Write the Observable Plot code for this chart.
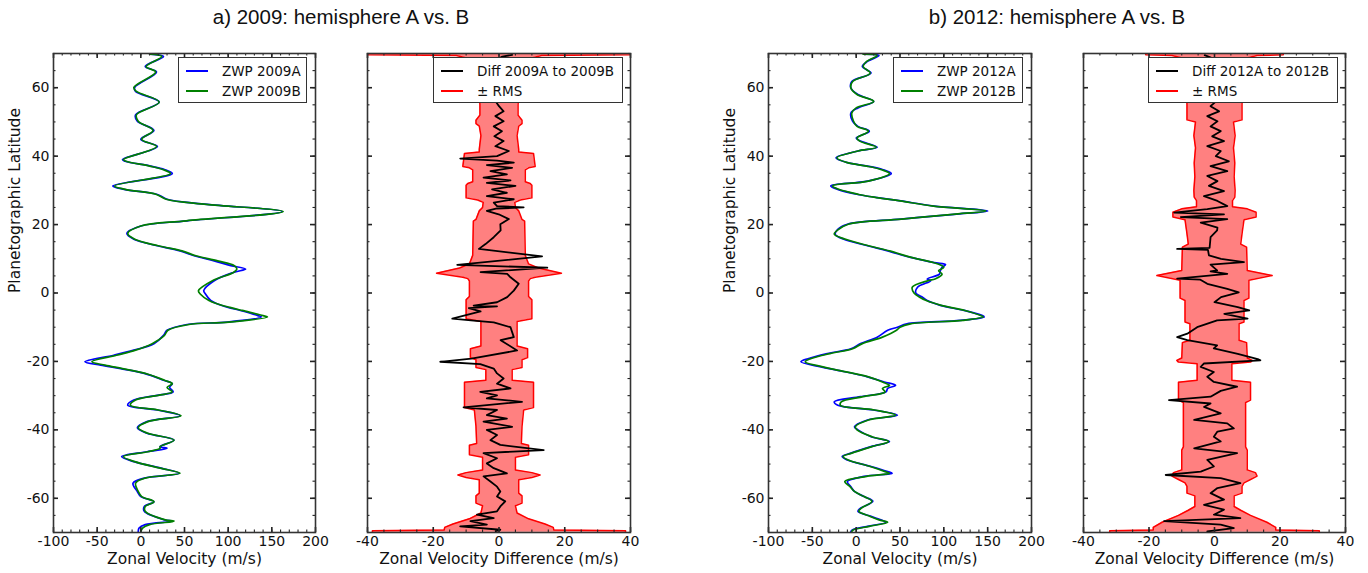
<!DOCTYPE html>
<html><head><meta charset="utf-8">
<script src="https://cdn.jsdelivr.net/npm/d3@7"></script>
<script src="https://cdn.jsdelivr.net/npm/@observablehq/plot@0.6"></script>
<style>
body{margin:0;background:#fff;}
#root{position:relative;width:1368px;height:573px;overflow:hidden;font-family:"DejaVu Sans",sans-serif;background:#fff;}
.title{position:absolute;top:6px;font-family:"Liberation Sans",Arial,sans-serif;font-size:20.5px;line-height:22px;color:#111;transform:translateX(-50%);white-space:nowrap;}
.legend{position:absolute;background:#fff;border:1px solid #333;box-sizing:border-box;font-size:13.5px;color:#111;z-index:5;}
.legend .ln{position:absolute;height:0;border-top:2px solid #000;}
.legend .tx{position:absolute;line-height:16px;white-space:nowrap;}
</style></head>
<body><div id="root"></div>
<script>
// ---------- data: [latitude, hemisphere A, hemisphere B] ----------
const zwp2009 = [
 [69.8,11,10],[69.1,26,24],[66.2,5,6],[64.6,18,17],[60.1,-7,-8],[58.9,-6,-5],[55.8,21,21],[52.1,-6,-5],[50.2,-4,-3],[47.5,15,14],
 [44.9,0,1],[42.8,19,18],[39.0,-21,-20],[38.5,-18,-17],[37.1,11,10],[36.1,27,25],[34.9,36,34],[31.3,-32,-30],[30.3,-19,-18],[28.8,19,18],
 [27.4,30,29],[25.9,76,75],[23.8,162,163],[21.1,53,52],[19.6,0,0],[17.4,-16,-15],[15.7,-8,-7],[13.8,19,20],[12.3,45,47],[10.9,61,63],
 [9.4,84,88],[8.0,103,107],[7.0,120,110],[6.0,106,106],[3.6,84,82],[0.7,72,66],[-0.3,74,68],[-2.2,80,78],[-3.2,88,88],[-4.2,100,102],
 [-5.1,114,116],[-6.6,134,140],[-7.0,138,145],[-8.5,99,101],[-9.2,53,55],[-10.9,30,31],[-12.4,26,27],[-14.8,15,13],[-16.7,-8,-6],[-18.2,-31,-28],
 [-20.1,-64,-56],[-21.1,-46,-41],[-22.1,-23,-21],[-23.5,4,5],[-25.5,26,27],[-26.5,36,36],[-27.6,33,30],[-28.9,37,36],[-29.9,19,20],[-31.3,-8,-6],
 [-32.8,-15,-12],[-34.2,19,20],[-35.9,45,46],[-37.6,7,8],[-39.4,-4,-3],[-41.0,7,8],[-43.0,38,38],[-44.9,22,22],[-45.4,30,22],[-46.4,7,8],
 [-47.8,-22,-20],[-49.3,-8,-7],[-51.2,23,22],[-52.7,44,45],[-54.1,4,5],[-55.6,-9,-6],[-58.0,-4,-3],[-59.5,0,1],[-61.0,15,15],[-62.4,4,5],
 [-63.8,4,5],[-66.3,27,28],[-66.7,36,38],[-67.7,5,10],[-68.7,-2,2],[-69.7,-3,0]
];
const zwp2012 = [
 [69.8,9,8],[69.4,26,24],[67.7,13,12],[66.2,7,8],[64.3,17,16],[61.8,-5,-4],[59.9,-6,-6],[58.0,2,1],[56.0,20,20],[54.1,2,0],
 [52.6,-6,-5],[50.2,-4,-3],[48.7,2,1],[47.3,15,14],[45.3,0,1],[44.4,5,4],[42.6,24,23],[41.5,2,2],[39.5,-23,-22],[38.1,-10,-10],
 [37.1,13,12],[36.1,30,28],[34.9,40,38],[32.7,13,14],[31.3,-29,-27],[30.3,-21,-20],[28.8,2,3],[27.9,24,23],[26.9,51,50],[25.4,89,88],
 [24.0,150,148],[23.0,112,110],[21.6,51,52],[20.1,-10,-9],[18.6,-21,-20],[17.2,-24,-25],[15.7,-14,-12],[13.8,13,14],[12.3,36,38],[10.4,62,63],
 [8.9,89,88],[8.3,102,95],[7.5,98,100],[6.5,96,94],[5.5,95,98],[4.1,81,90],[3.6,85,82],[1.7,70,64],[0,68,66],[-1.3,76,73],
 [-2.2,81,80],[-3.6,96,97],[-5.1,123,124],[-6.6,144,142],[-7.0,146,145],[-8.0,119,122],[-9.0,58,62],[-10.0,47,50],[-10.9,36,46],[-12.9,24,30],
 [-14.8,5,7],[-16.3,-6,-4],[-17.7,-33,-30],[-19.2,-55,-52],[-20.1,-63,-58],[-21.6,-40,-38],[-22.6,-21,-20],[-24.5,13,14],[-26.0,32,30],[-27.0,45,38],
 [-27.9,36,30],[-28.9,34,33],[-30.3,5,8],[-31.8,-25,-17],[-32.8,-21,-18],[-34.2,20,21],[-35.7,47,45],[-37.1,13,14],[-39.1,-2,-1],[-40.0,2,1],
 [-42.0,17,18],[-43.4,38,37],[-44.9,17,18],[-46.8,-6,-5],[-47.8,-16,-15],[-48.8,-10,-9],[-50.7,17,16],[-52.2,36,33],[-52.7,41,38],[-53.6,9,12],
 [-55.1,-10,-13],[-56.6,-6,-7],[-58.0,-2,-2],[-59.5,9,9],[-60.9,19,18],[-62.9,5,6],[-63.8,2,3],[-65.3,17,16],[-66.3,28,26],[-67.0,34,36],
 [-68.2,13,15],[-69.2,-4,-3],[-69.7,-6,-5]
];
// [latitude, A minus B difference]
const diff2009 = [
 [69.6,4],[69.1,1],[68,-1],[66,2],[64,-2],[62,1],[60,-1],[58,2],[56,-1],[54.6,0],
 [53.1,1.4],[51.7,-1.1],[50.2,1.4],[48.7,-1.6],[47.3,0.9],[45.8,-1.4],[44.4,1.4],[42.9,-1.1],[41.5,3.0],[40.0,-0.6],
 [39.3,-11.8],[38.7,-0.6],[38.1,4.5],[37.4,-3.7],[36.6,4.0],[35.6,-2.6],[34.7,2.4],[33.7,-4.7],[32.9,3.5],[32.2,-3.7],
 [31.3,5.0],[30.3,-2.1],[29.3,2.4],[28.3,-3.7],[27.4,4.5],[26.4,-1.6],[25.4,-0.6],[25.0,7.5],[24.7,-0.6],[24.0,-3.7],
 [23.0,-0.1],[21.6,3.0],[20.1,0.4],[18.3,0.5],[16.3,-1.6],[14.3,-4.1],[12.9,-6.1],[10.7,13.1],[8.2,-12.7],[7.4,14.7],
 [6.1,-5.6],[5.6,2.5],[4.6,3.5],[2.7,6.0],[0.7,4.5],[-1.2,2.5],[-2.7,-0.6],[-3.7,-7.7],[-3.9,-0.6],[-4.4,-9.2],
 [-5.4,-5.6],[-7.5,-14.2],[-8.1,-7.7],[-8.6,-1.6],[-10.0,3.5],[-12.9,4.5],[-13.8,0.5],[-16.8,5.5],[-19.2,-8.4],[-20.1,-17.9],
 [-20.8,-5.7],[-22.1,-1.6],[-23.5,-0.6],[-25.0,1.4],
 [-26.5,-0.6],[-27.9,3.5],[-28.9,-5.7],[-29.9,-0.6],[-30.8,-3.7],[-31.8,7.0],[-32.8,-3.7],[-33.4,-10.8],[-34.2,-0.6],[-35.7,-3.7],
 [-36.7,2.4],[-37.6,-4.7],[-39.1,4.0],[-40.0,-3.7],[-41.5,-0.6],[-43.0,-2.6],[-44.4,0.4],[-45.9,13.6],[-46.8,-4.7],[-48.3,-0.6],
 [-49.8,-3.7],[-51.2,-1.6],[-52.7,2.4],[-53.6,-4.7],[-55.1,-2.6],[-56.6,-0.6],[-58.0,0.4],[-59.5,-0.6],[-60.9,1.9],[-62.4,0.4],
 [-63.8,-0.6],[-64.8,-6.7],[-65.8,-1.6],[-66.7,-8.7],[-67.7,-3.7],[-68.2,-11.8],[-69.2,0.4],[-69.6,-1]
];
const diff2012 = [
 [69.5,-3],[68,1],[66,-1],[64,2],[62,-2],[60,1],[58,-1],[56,0.5],[54.6,-1.2],[53.1,1.4],
 [51.7,-2.2],[50.2,0.9],[48.7,-1.2],[47.3,1.9],[45.8,-0.7],[44.4,2.9],[42.9,-2.2],[41.5,1.9],[40.0,0.4],[38.5,4.4],
 [37.1,-1.2],[35.6,3.9],[34.2,-2.2],[32.7,0.9],[31.3,-1.7],[29.8,2.9],[28.3,-3.2],[26.9,0.9],[25.4,3.9],[24.5,-2.2],
 [23.5,-12.3],[23.0,2.9],[22.2,-10.3],[21.6,3.9],[20.6,-4.2],[19.1,0.9],[18.3,0.8],[16.3,-1.2],[13.2,-1.5],[12.9,-11.4],
 [12.6,-2.0],[11.0,-1.7],[10.0,2.0],[9.0,9.0],[8.3,-1.2],[6.6,0.8],[6.3,-1.2],[5.6,3.9],[4.2,-11.4],[3.9,-4.3],
 [2.7,-2.2],[1.2,3.9],[0.2,7.4],[-1.2,2.0],[-2.7,0.0],[-4.1,7.1],[-5.1,10.6],[-6.1,3.0],[-7.5,10.1],[-8.0,0.8],
 [-10.0,-5.3],[-11.9,-8.3],[-12.9,-11.4],[-13.8,-8.3],[-15.3,0.8],[-16.2,-0.2],[-17.8,7.1],[-19.3,13.2],[-19.7,14],[-20.6,-3.2],
 [-21.6,-4.2],[-23.1,-0.2],[-24.5,-2.2],[-26.0,-0.2],
 [-27.4,6.9],[-28.6,1.9],[-30.3,-1.2],[-31.3,-13.9],[-32.3,-1.2],[-33.3,-3.2],[-35.2,1.9],[-37.1,-6.2],[-38.1,3.9],[-39.6,5.9],
 [-40.5,0.9],[-42.0,-0.2],[-43.4,1.9],[-45.4,-6.2],[-46.8,6.9],[-48.8,-2.2],[-50.7,-0.2],[-52.2,-4.2],[-53.2,-14.9],[-54.1,1.9],
 [-55.6,7.9],[-57.0,0.9],[-58.5,-1.2],[-60.4,2.9],[-61.9,-3.2],[-63.3,2.9],[-64.8,-0.2],[-65.8,7.9],[-66.7,-15.4],[-67.7,1.9],
 [-68.7,5.9],[-69.7,-2.2]
];
// [latitude, RMS half-width]
const rms2009 = [
 [69.95,40],[69.6,40],[69.4,13],[68.5,9],[67,7],[62,6.5],[58,6],[55,5.8],[52,5.8],[50.5,7],
 [49.5,7],[48.8,6],[46,5.5],[42,6],[41.2,6],[40.8,10.5],[37,11],[36.6,9],[36,8],[32.5,8],
 [32,9.5],[31.5,10],[27.8,10],[27.2,6.5],[26.5,4.8],[25,5],[24,6],[21.5,7],[21,7.8],[11,8],
 [8.5,9],[7.3,12],[5.8,19],[4.6,11],[4.2,9.5],[3.5,9],[-1,9],[-2,10],[-7.5,10],[-8.3,5.5],
 [-15.5,5.5],[-16.3,8.7],[-18.9,8.7],[-19.5,7],[-21.8,7],[-22.4,4],[-25.5,4],[-26.1,10.5],[-33.5,10.5],
 [-34.2,7.5],[-39,7],[-44,6.8],[-44.5,9],[-47.3,9],[-48,5],[-51.7,5],[-52.5,10],[-53.2,12.5],[-53.9,10],
 [-54.6,6],[-58.5,6],[-59.3,7],[-61.4,7],[-62.2,5],[-64.3,5.5],[-66,9],[-67.5,14],[-68.5,16.5],[-69.3,16.7],
 [-69.5,38.5],[-69.95,38.5]
];
const rms2012 = [
 [69.95,21],[69.6,21],[69.4,13],[68.5,9],[66,8.5],[60,8.5],[55,8.4],[50.6,8.4],[50,5.8],[46,6.3],
 [42.4,5.8],[38,6.2],[34,6],[30,6.3],[28,6.2],[27,5.5],[25.2,5.5],[24.6,10],[23.6,12.7],[22.2,12.7],
 [21.4,9],[18,8.5],[14.3,8],[13.4,9.8],[6.6,10],[5.1,17.6],[3.7,10.5],[-1.5,10.5],
 [-2.2,9],[-8.5,9],[-9,7.5],[-13.8,7.5],[-14.5,9.8],[-19,10],[-19.7,11.5],[-20.2,11],[-20.7,5.3],[-25.5,5.3],[-26.1,11],[-31.3,11],
 [-32,9.5],[-45,9.5],[-45.9,10],[-51.7,10],[-52.5,12.5],[-53.5,13],[-54.5,11],[-55.5,9],[-56.5,8.4],[-58.5,8.4],
 [-59.3,6],[-62.4,6],[-63.5,8],[-65,11],[-67,16],[-68.5,18.7],[-69.3,18.7],[-69.5,32],[-69.95,32]
];
const latMajor = [-60,-40,-20,0,20,40,60];
const latMinor = [-70,-65,-60,-55,-50,-45,-40,-35,-30,-25,-20,-15,-10,-5,0,5,10,15,20,25,30,35,40,45,50,55,60,65,70];
const velMajor = [-100,-50,0,50,100,150,200];
const velMinor = [-100,-90,-80,-70,-60,-50,-40,-30,-20,-10,0,10,20,30,40,50,60,70,80,90,100,110,120,130,140,150,160,170,180,190,200];
const difMajor = [-40,-20,0,20,40];
const difMinor = [-40,-35,-30,-25,-20,-15,-10,-5,0,5,10,15,20,25,30,35,40];
const titles = ["a) 2009: hemisphere A vs. B", "b) 2012: hemisphere A vs. B"];
const legend2009a = ["ZWP 2009A", "ZWP 2009B"];
const legend2009b = ["Diff 2009A to 2009B", "\u00b1 RMS"];
const legend2012a = ["ZWP 2012A", "ZWP 2012B"];
const legend2012b = ["Diff 2012A to 2012B", "\u00b1 RMS"];

const root = document.getElementById("root");
const FT = 53, FH = 479, LAT = [-70, 70];
const INK = "#222";

function frameTicks(xDomain, fw, xMaj, xMin) {
  const [a, b] = xDomain;
  const kx = (b - a) / fw, ky = 140 / FH;
  const M = 5, m = 2.5;
  const s1 = {stroke: INK, strokeWidth: 1.1}, s2 = {stroke: INK, strokeWidth: 1.6};
  return [
    Plot.ruleY(latMinor, {x1: a, x2: a + m * kx, ...s1}),
    Plot.ruleY(latMinor, {x1: b - m * kx, x2: b, ...s1}),
    Plot.ruleY(latMajor, {x1: a, x2: a + M * kx, ...s2}),
    Plot.ruleY(latMajor, {x1: b - M * kx, x2: b, ...s2}),
    Plot.ruleX(xMin, {y1: -70, y2: -70 + m * ky, ...s1}),
    Plot.ruleX(xMin, {y1: 70 - m * ky, y2: 70, ...s1}),
    Plot.ruleX(xMaj, {y1: -70, y2: -70 + M * ky, ...s2}),
    Plot.ruleX(xMaj, {y1: 70 - M * ky, y2: 70, ...s2})
  ];
}

function panel(cfg) {
  const fw = cfg.right - cfg.left;
  const mL = 55, mR = 14, mT = 13, mB = 41;
  const svg = Plot.plot({
    width: fw + mL + mR, height: FH + mT + mB,
    marginLeft: mL, marginRight: mR, marginTop: mT, marginBottom: mB,
    x: {domain: cfg.xDomain, axis: null},
    y: {domain: LAT, axis: null},
    style: {background: "transparent", overflow: "visible", fontFamily: "DejaVu Sans, sans-serif", fontSize: "14px", color: "#111"},
    marks: [
      ...cfg.marks,
      ...frameTicks(cfg.xDomain, fw, cfg.xMaj, cfg.xMin),
      Plot.frame({stroke: "#333", strokeWidth: 1.6}),
      Plot.axisX(cfg.xMaj, {tickSize: 0, tickPadding: 4, tickFormat: d => String(d), fontSize: 14}),
      cfg.showY ? Plot.axisY(latMajor, {tickSize: 0, tickPadding: 4, tickFormat: d => String(d), fontSize: 14}) : null,
      Plot.text([cfg.xLabel], {frameAnchor: "bottom", dy: 31, fontSize: 15.5, fill: "#111"}),
      cfg.showY ? Plot.text(["Planetographic Latitude"], {frameAnchor: "left", rotate: -90, dx: -38, fontSize: 15.5, fill: "#111"}) : null
    ].filter(Boolean)
  });
  svg.style.position = "absolute";
  svg.style.left = (cfg.left - mL) + "px";
  svg.style.top = (FT - mT) + "px";
  root.appendChild(svg);
}

function zwpMarks(data) {
  return [
    Plot.lineX(data, {x: d => d[1], y: d => d[0], stroke: "#0000ff", strokeWidth: 1.7, curve: "catmull-rom", clip: true}),
    Plot.lineX(data, {x: d => d[2], y: d => d[0], stroke: "#008000", strokeWidth: 1.7, curve: "catmull-rom", clip: true})
  ];
}
function diffMarks(diff, rms) {
  return [
    Plot.areaX(rms, {y: d => d[0], x1: d => -d[1], x2: d => d[1], fill: "#ff8080", clip: true}),
    Plot.lineX(rms, {x: d => -d[1], y: d => d[0], stroke: "#ff0000", strokeWidth: 1.5, clip: true}),
    Plot.lineX(rms, {x: d => d[1], y: d => d[0], stroke: "#ff0000", strokeWidth: 1.5, clip: true}),
    Plot.lineX(diff, {x: d => d[1], y: d => d[0], stroke: "#000", strokeWidth: 1.8, clip: true})
  ];
}

panel({left: 53, right: 315, xDomain: [-100, 200], xMaj: velMajor, xMin: velMinor, showY: true,
       xLabel: "Zonal Velocity (m/s)", marks: zwpMarks(zwp2009)});
panel({left: 367, right: 630, xDomain: [-40, 40], xMaj: difMajor, xMin: difMinor, showY: false,
       xLabel: "Zonal Velocity Difference (m/s)", marks: diffMarks(diff2009, rms2009)});
panel({left: 768, right: 1031, xDomain: [-100, 200], xMaj: velMajor, xMin: velMinor, showY: true,
       xLabel: "Zonal Velocity (m/s)", marks: zwpMarks(zwp2012)});
panel({left: 1083, right: 1345, xDomain: [-40, 40], xMaj: difMajor, xMin: difMinor, showY: false,
       xLabel: "Zonal Velocity Difference (m/s)", marks: diffMarks(diff2012, rms2012)});

function addTitle(text, cx) {
  const d = document.createElement("div");
  d.className = "title"; d.style.left = cx + "px"; d.textContent = text;
  root.appendChild(d);
}
addTitle(titles[0], 341);
addTitle(titles[1], 1057);

function addLegend(left, width, labels, colors) {
  const box = document.createElement("div");
  box.className = "legend";
  Object.assign(box.style, {left: left + "px", top: "57px", width: width + "px", height: "46px"});
  labels.forEach((lab, i) => {
    const cy = 13 + i * 20;
    const ln = document.createElement("div");
    ln.className = "ln";
    Object.assign(ln.style, {left: "7px", width: "22px", top: (cy - 1) + "px", borderTopColor: colors[i]});
    const tx = document.createElement("div");
    tx.className = "tx";
    Object.assign(tx.style, {left: "43px", top: (cy - 8) + "px"});
    tx.textContent = lab;
    box.appendChild(ln); box.appendChild(tx);
  });
  root.appendChild(box);
}
addLegend(178, 129, legend2009a, ["#0000ff", "#008000"]);
addLegend(433, 190, legend2009b, ["#000000", "#ff0000"]);
addLegend(893, 130, legend2012a, ["#0000ff", "#008000"]);
addLegend(1148, 190, legend2012b, ["#000000", "#ff0000"]);
</script>
</body></html>
